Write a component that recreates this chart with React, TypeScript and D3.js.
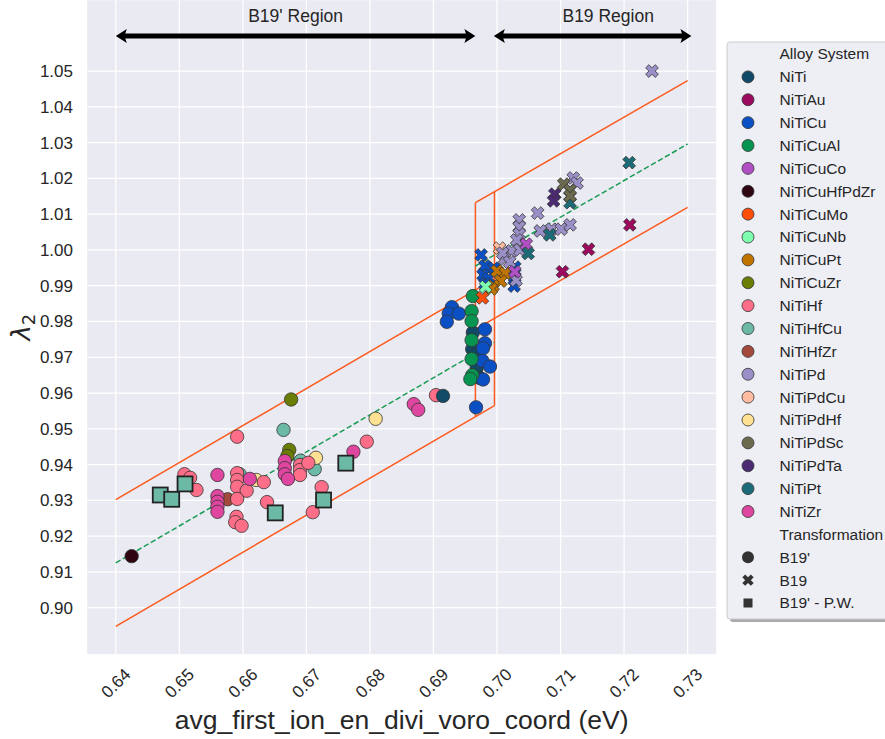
import * as d3 from 'd3';
import React, { useEffect, useRef } from 'react';

const WIDTH = 885;
const HEIGHT = 739;

const alloys = [
  'NiTi', 'NiTiAu', 'NiTiCu', 'NiTiCuAl', 'NiTiCuCo', 'NiTiCuHfPdZr', 'NiTiCuMo',
  'NiTiCuNb', 'NiTiCuPt', 'NiTiCuZr', 'NiTiHf', 'NiTiHfCu', 'NiTiHfZr', 'NiTiPd',
  'NiTiPdCu', 'NiTiPdHf', 'NiTiPdSc', 'NiTiPdTa', 'NiTiPt', 'NiTiZr',
];
const alloyColors = [
  '#114a66', '#9b0a5c', '#0a50c4', '#079450', '#b14fc5', '#2e0510', '#ff4d0a',
  '#7dffaf', '#c07400', '#6a7d05', '#ff6e88', '#6cb9a5', '#a34a3d', '#9b8fc7',
  '#ffbca1', '#ffe194', '#6b6a4f', '#4b2a72', '#1b6c78', '#df469f',
];

const transformations = ["B19'", 'B19', "B19' - P.W."];

// B19' (circles): [alloy, x, lambda2]
const b19PrimePoints: [string, number, number][] = [
  ['NiTiCuHfPdZr', 0.6425, 0.9144],
  ['NiTiCuZr', 0.6676, 0.9582], ['NiTiCuZr', 0.6673, 0.9441], ['NiTiCuZr', 0.6670, 0.9424],
  ['NiTiHfCu', 0.6664, 0.9497], ['NiTiHfCu', 0.6595, 0.9373], ['NiTiHfCu', 0.6691, 0.9411], ['NiTiHfCu', 0.6713, 0.9387],
  ['NiTiPdHf', 0.6809, 0.9528], ['NiTiPdHf', 0.6715, 0.9419], ['NiTiPdHf', 0.6621, 0.9357],
  ['NiTiHfZr', 0.6576, 0.9303],
  ['NiTiHf', 0.6591, 0.9478], ['NiTiHf', 0.6508, 0.9373], ['NiTiHf', 0.6517, 0.9363], ['NiTiHf', 0.6527, 0.9329],
  ['NiTiHf', 0.6591, 0.9376], ['NiTiHf', 0.6591, 0.9357], ['NiTiHf', 0.6591, 0.9338], ['NiTiHf', 0.6606, 0.9327],
  ['NiTiHf', 0.6591, 0.9304], ['NiTiHf', 0.6590, 0.9254], ['NiTiHf', 0.6588, 0.9239], ['NiTiHf', 0.6598, 0.9229],
  ['NiTiHf', 0.6633, 0.9351], ['NiTiHf', 0.6638, 0.9295], ['NiTiHf', 0.6690, 0.9399], ['NiTiHf', 0.6690, 0.9385],
  ['NiTiHf', 0.6690, 0.9371], ['NiTiHf', 0.6703, 0.9405], ['NiTiHf', 0.6724, 0.9337], ['NiTiHf', 0.6710, 0.9267],
  ['NiTiHf', 0.6795, 0.9464], ['NiTiHf', 0.6904, 0.9594],
  ['NiTiZr', 0.6560, 0.9371], ['NiTiZr', 0.6560, 0.9312], ['NiTiZr', 0.6560, 0.9296], ['NiTiZr', 0.6560, 0.9282],
  ['NiTiZr', 0.6560, 0.9268], ['NiTiZr', 0.6611, 0.9360], ['NiTiZr', 0.6666, 0.9410], ['NiTiZr', 0.6666, 0.9390],
  ['NiTiZr', 0.6666, 0.9373], ['NiTiZr', 0.6671, 0.9360], ['NiTiZr', 0.6774, 0.9436], ['NiTiZr', 0.6869, 0.9569],
  ['NiTiZr', 0.6876, 0.9553],
  ['NiTi', 0.6962, 0.9769], ['NiTi', 0.6961, 0.9723], ['NiTi', 0.6965, 0.9706], ['NiTi', 0.6968, 0.9670],
  ['NiTi', 0.6973, 0.9642], ['NiTi', 0.6915, 0.9592],
  ['NiTiCu', 0.6929, 0.9840], ['NiTiCu', 0.6924, 0.9822], ['NiTiCu', 0.6940, 0.9822], ['NiTiCu', 0.6921, 0.9799],
  ['NiTiCu', 0.6981, 0.9778], ['NiTiCu', 0.6981, 0.9739], ['NiTiCu', 0.6978, 0.9725], ['NiTiCu', 0.6977, 0.9690],
  ['NiTiCu', 0.6989, 0.9674], ['NiTiCu', 0.6978, 0.9638], ['NiTiCu', 0.6967, 0.9560],
  ['NiTiCuAl', 0.6962, 0.9871], ['NiTiCuAl', 0.6960, 0.9829], ['NiTiCuAl', 0.6960, 0.9801], ['NiTiCuAl', 0.6960, 0.9748],
  ['NiTiCuAl', 0.6960, 0.9695], ['NiTiCuAl', 0.6961, 0.9650], ['NiTiCuAl', 0.6958, 0.9639],
];

// B19 (crosses)
const b19Points: [string, number, number][] = [
  ['NiTiCu', 0.6975, 0.9986], ['NiTiCu', 0.6981, 0.9955], ['NiTiCu', 0.6995, 0.9949], ['NiTiCu', 0.6978, 0.9930],
  ['NiTiCu', 0.6987, 0.9921], ['NiTiCu', 0.6981, 0.9905], ['NiTiCu', 0.7028, 0.9952], ['NiTiCu', 0.7028, 0.9924],
  ['NiTiCu', 0.7027, 0.9899],
  ['NiTiPdCu', 0.7004, 1.0005],
  ['NiTiCuPt', 0.7000, 0.9941], ['NiTiCuPt', 0.7013, 0.9935], ['NiTiCuPt', 0.7006, 0.9913], ['NiTiCuPt', 0.6994, 0.9899],
  ['NiTiCuPt', 0.6991, 0.9891],
  ['NiTiCuMo', 0.6977, 0.9866],
  ['NiTiCuNb', 0.6982, 0.9897],
  ['NiTiPd', 0.7244, 1.0500], ['NiTiPd', 0.7120, 1.0201], ['NiTiPd', 0.7126, 1.0187], ['NiTiPd', 0.7064, 1.0103],
  ['NiTiPd', 0.7035, 1.0084], ['NiTiPd', 0.7035, 1.0064], ['NiTiPd', 0.7035, 1.0044], ['NiTiPd', 0.7031, 1.0028],
  ['NiTiPd', 0.7068, 1.0053], ['NiTiPd', 0.7086, 1.0058], ['NiTiPd', 0.7101, 1.0058], ['NiTiPd', 0.7115, 1.0070],
  ['NiTiPd', 0.7023, 0.9997], ['NiTiPd', 0.7012, 0.9975], ['NiTiPd', 0.7036, 1.0000], ['NiTiPd', 0.7009, 0.9991],
  ['NiTiPd', 0.7030, 0.9915], ['NiTiPd', 0.7020, 0.9966],
  ['NiTiCuCo', 0.7028, 0.9939], ['NiTiCuCo', 0.7046, 1.0016],
  ['NiTiPt', 0.7049, 0.9990], ['NiTiPt', 0.7083, 1.0042], ['NiTiPt', 0.7115, 1.0132], ['NiTiPt', 0.7208, 1.0244],
  ['NiTiPdTa', 0.7091, 1.0156], ['NiTiPdTa', 0.7089, 1.0137],
  ['NiTiPdSc', 0.7105, 1.0184], ['NiTiPdSc', 0.7115, 1.0167], ['NiTiPdSc', 0.7115, 1.0151],
  ['NiTiAu', 0.7209, 1.0070], ['NiTiAu', 0.7144, 1.0002], ['NiTiAu', 0.7103, 0.9939],
];

// B19' from present work (squares)
const pwPoints: [string, number, number][] = [
  ['NiTiHfCu', 0.6470, 0.9315], ['NiTiHfCu', 0.6488, 0.9303], ['NiTiHfCu', 0.6509, 0.9346],
  ['NiTiHfCu', 0.6651, 0.9265], ['NiTiHfCu', 0.6727, 0.9301], ['NiTiHfCu', 0.6762, 0.9404],
];

const xTicks = [0.64, 0.65, 0.66, 0.67, 0.68, 0.69, 0.70, 0.71, 0.72, 0.73];
const yTicks = [0.90, 0.91, 0.92, 0.93, 0.94, 0.95, 0.96, 0.97, 0.98, 0.99, 1.00, 1.01, 1.02, 1.03, 1.04, 1.05];

// linear fits per region and the band around them
const fitLeftX = [0.64, 0.6996];
const fitLeftY = [0.9125, 0.9742];
const fitRightX = [0.6966, 0.73];
const fitRightY = [0.9955, 1.0296];
const bandHalf = 0.0177;

const regionNames = ["B19' Region", 'B19 Region'];
const regionArrowX = [[0.64, 0.6966], [0.6995, 0.7306]];
const regionLabelX = [0.6683, 0.7175];
const arrowY = 1.0598;
const regionLabelY = 1.0637;

const FONT = "'Liberation Sans', Arial, sans-serif";
const TEXT = '#262626';

const colorOf = (a: string) => alloyColors[alloys.indexOf(a)];

const xMarker = (cx: number, cy: number, s: number) => {
  const pts = [[-1, -3], [1, -3], [1, -1], [3, -1], [3, 1], [1, 1], [1, 3], [-1, 3], [-1, 1], [-3, 1], [-3, -1], [-1, -1]];
  const c = Math.SQRT1_2;
  return 'M' + pts.map(([px, py]) => {
    const u = (px / 6) * s;
    const v = (py / 6) * s;
    return `${cx + c * (u - v)},${cy + c * (u + v)}`;
  }).join('L') + 'Z';
};

const arrowPath = (x1: number, x2: number, yy: number) => {
  const hl = 11, hw = 7, t = 2.4;
  return `M${x1},${yy}L${x1 + hl},${yy - hw}L${x1 + hl - 1.5},${yy - t}L${x2 - hl + 1.5},${yy - t}L${x2 - hl},${yy - hw}` +
    `L${x2},${yy}L${x2 - hl},${yy + hw}L${x2 - hl + 1.5},${yy + t}L${x1 + hl - 1.5},${yy + t}L${x1 + hl},${yy + hw}Z`;
};

const App = () => {
  const ref = useRef<SVGSVGElement>(null);

  useEffect(() => {
    document.body.style.margin = '0';
    const svg = d3.select(ref.current);
    svg.selectAll('*').remove();

    const x = d3.scaleLinear().domain([0.6355, 0.7345]).range([87.2, 716.2]);
    const y = d3.scaleLinear().domain([0.887, 1.0698]).range([654.2, 0.2]);

    svg.append('rect').attr('width', WIDTH).attr('height', HEIGHT).attr('fill', '#ffffff');
    svg.append('rect')
      .attr('x', x(0.6355)).attr('y', y(1.0698))
      .attr('width', x(0.7345) - x(0.6355)).attr('height', y(0.887) - y(1.0698))
      .attr('fill', '#eaeaf2');

    // grid
    const grid = svg.append('g').attr('stroke', '#ffffff').attr('stroke-width', 1.25);
    grid.selectAll('.vx').data(xTicks).join('line')
      .attr('x1', (d) => x(d)).attr('x2', (d) => x(d))
      .attr('y1', y(1.0698)).attr('y2', y(0.887));
    grid.selectAll('.hy').data(yTicks).join('line')
      .attr('x1', x(0.6355)).attr('x2', x(0.7345))
      .attr('y1', (d) => y(d)).attr('y2', (d) => y(d));

    // tick labels
    svg.append('g').selectAll('text').data(yTicks).join('text')
      .attr('x', 73).attr('y', (d) => y(d)).attr('dy', '0.35em')
      .attr('text-anchor', 'end').attr('font-family', FONT).attr('font-size', 17).attr('fill', TEXT)
      .text((d) => d.toFixed(2));
    svg.append('g').selectAll('text').data(xTicks).join('text')
      .attr('transform', (d) => `translate(${x(d)},683) rotate(-45)`)
      .attr('dy', '0.35em').attr('text-anchor', 'middle')
      .attr('font-family', FONT).attr('font-size', 17).attr('fill', TEXT)
      .text((d) => d.toFixed(2));

    // axis titles
    svg.append('text')
      .attr('x', (x(0.6355) + x(0.7345)) / 2).attr('y', 729)
      .attr('text-anchor', 'middle').attr('font-family', FONT).attr('font-size', 26.5).attr('fill', TEXT)
      .text('avg_first_ion_en_divi_voro_coord (eV)');
    const yl = svg.append('text')
      .attr('transform', `translate(30,${(y(1.0698) + y(0.887)) / 2}) rotate(-90)`)
      .attr('text-anchor', 'middle').attr('font-family', "'DejaVu Sans', sans-serif").attr('fill', TEXT);
    yl.append('tspan').attr('font-size', 26).attr('font-style', 'italic').text('λ');
    yl.append('tspan').attr('font-size', 18).attr('dy', 5).text('2');

    // fit lines and bands
    const line = d3.line<[number, number]>().x((d) => x(d[0])).y((d) => y(d[1]));
    const leftAt = (v: number) => fitLeftY[0] + (fitLeftY[1] - fitLeftY[0]) * (v - fitLeftX[0]) / (fitLeftX[1] - fitLeftX[0]);
    const rightAt = (v: number) => fitRightY[0] + (fitRightY[1] - fitRightY[0]) * (v - fitRightX[0]) / (fitRightX[1] - fitRightX[0]);
    const bands: [number, number][][] = [
      fitLeftX.map((v, i) => [v, fitLeftY[i] + bandHalf]),
      fitLeftX.map((v, i) => [v, fitLeftY[i] - bandHalf]),
      fitRightX.map((v, i) => [v, fitRightY[i] + bandHalf]),
      fitRightX.map((v, i) => [v, fitRightY[i] - bandHalf]),
      [[fitRightX[0], leftAt(fitRightX[0]) - bandHalf], [fitRightX[0], rightAt(fitRightX[0]) + bandHalf]],
      [[fitLeftX[1], leftAt(fitLeftX[1]) - bandHalf], [fitLeftX[1], rightAt(fitLeftX[1]) + bandHalf]],
    ];
    svg.append('g').selectAll('path').data(bands).join('path')
      .attr('d', (d) => line(d)).attr('fill', 'none').attr('stroke', '#fd5a1e').attr('stroke-width', 1.5);
    const fits: [number, number][][] = [
      fitLeftX.map((v, i) => [v, fitLeftY[i]]),
      fitRightX.map((v, i) => [v, fitRightY[i]]),
    ];
    svg.append('g').selectAll('path').data(fits).join('path')
      .attr('d', (d) => line(d)).attr('fill', 'none').attr('stroke', '#1a9c55')
      .attr('stroke-width', 1.5).attr('stroke-dasharray', '5.5,2.6');

    // markers
    svg.append('g').selectAll('circle').data(b19PrimePoints).join('circle')
      .attr('cx', (d) => x(d[1])).attr('cy', (d) => y(d[2])).attr('r', 6.7)
      .attr('fill', (d) => colorOf(d[0])).attr('stroke', '#333333').attr('stroke-width', 0.8);
    svg.append('g').selectAll('path').data(b19Points).join('path')
      .attr('d', (d) => xMarker(x(d[1]), y(d[2]), 13.5))
      .attr('fill', (d) => colorOf(d[0])).attr('stroke', '#333333').attr('stroke-width', 0.8);
    svg.append('g').selectAll('rect').data(pwPoints).join('rect')
      .attr('x', (d) => x(d[1]) - 7.5).attr('y', (d) => y(d[2]) - 7.5)
      .attr('width', 15).attr('height', 15)
      .attr('fill', (d) => colorOf(d[0])).attr('stroke', '#222222').attr('stroke-width', 1.8);

    // region arrows
    svg.append('g').selectAll('path').data(regionArrowX).join('path')
      .attr('d', (d) => arrowPath(x(d[0]), x(d[1]), y(arrowY))).attr('fill', '#000000');
    svg.append('g').selectAll('text').data(regionNames).join('text')
      .attr('x', (d, i) => x(regionLabelX[i])).attr('y', y(regionLabelY))
      .attr('text-anchor', 'middle').attr('font-family', FONT).attr('font-size', 17.5).attr('fill', TEXT)
      .text((d) => d);

    // legend
    const lg = svg.append('g');
    lg.append('rect').attr('x', 730).attr('y', 45).attr('width', 190).attr('height', 577).attr('rx', 3)
      .attr('fill', '#555555').attr('opacity', 0.5);
    lg.append('rect').attr('x', 727).attr('y', 42).attr('width', 190).attr('height', 577).attr('rx', 3)
      .attr('fill', '#eeeef5').attr('stroke', '#cccccc').attr('stroke-width', 1);
    const rows = ['Alloy System', ...alloys, 'Transformation', ...transformations];
    const rowY = (i: number) => 54 + i * 22.875;
    lg.selectAll('text').data(rows).join('text')
      .attr('x', 779.5).attr('y', (d, i) => rowY(i)).attr('dy', '0.35em')
      .attr('font-family', FONT).attr('font-size', 15.5).attr('fill', TEXT)
      .text((d) => d);
    lg.append('g').selectAll('circle').data(alloys).join('circle')
      .attr('cx', 748).attr('cy', (d, i) => rowY(i + 1)).attr('r', 6)
      .attr('fill', (d) => colorOf(d)).attr('stroke', '#333333').attr('stroke-width', 0.8);
    const tBase = alloys.length + 2;
    lg.append('circle').attr('cx', 748).attr('cy', rowY(tBase)).attr('r', 6).attr('fill', '#333333');
    lg.append('path').attr('d', xMarker(748, rowY(tBase + 1), 12)).attr('fill', '#333333');
    lg.append('rect').attr('x', 743.5).attr('y', rowY(tBase + 2) - 4.5).attr('width', 9).attr('height', 9).attr('fill', '#333333');
  }, []);

  return <svg ref={ref} width={WIDTH} height={HEIGHT} style={{ display: 'block' }} />;
};

export default App;
